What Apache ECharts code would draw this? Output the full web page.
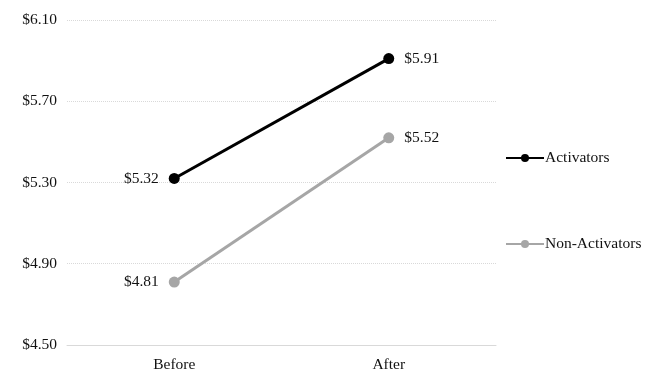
<!DOCTYPE html>
<html><head><meta charset="utf-8">
<script src="https://cdn.jsdelivr.net/npm/echarts@6/dist/echarts.min.js"></script>
<style>html,body{margin:0;padding:0;background:#fff}#c{width:653px;height:373px}</style>
</head><body><div id="c"></div>
<script>
var categories = ['Before', 'After'];
var activators = [5.32, 5.91];
var nonActivators = [4.81, 5.52];
var seriesNames = ['Activators', 'Non-Activators'];

var font = '"Liberation Serif", "DejaVu Serif", serif';
var chart = echarts.init(document.getElementById('c'));
function money(v){ return '$' + v.toFixed(2); }
function mkSeries(name, data, color){
  return {
    name: name, type: 'line',
    data: data.map(function(v, i){ return {value: v, label: {position: i === 0 ? 'left' : 'right'}}; }),
    symbol: 'circle', symbolSize: 11,
    lineStyle: {color: color, width: 3},
    itemStyle: {color: color},
    label: {
      show: true, formatter: function(p){ return money(p.value); },
      color: '#111', fontFamily: font, fontSize: 15.5, distance: 10
    },
    emphasis: {disabled: true}
  };
}

chart.setOption({
  animation: false,
  backgroundColor: '#fff',
  grid: {left: 67, right: 157, top: 20, bottom: 26, containLabel: false},
  legend: {
    orient: 'vertical', left: 500, top: 145, itemGap: 70,
    itemWidth: 38, itemHeight: 10,
    textStyle: {fontFamily: font, fontSize: 15.5, color: '#111', padding: [0,0,0,-4]},
    data: seriesNames
  },
  xAxis: {
    type: 'category', data: categories, boundaryGap: true,
    axisLine: {show: true, lineStyle: {color: '#d9d9d9', width: 1}},
    axisTick: {show: false},
    axisLabel: {fontFamily: font, fontSize: 15.5, color: '#111', margin: 12}
  },
  yAxis: {
    type: 'value', min: 4.5, max: 6.1, interval: 0.4,
    axisLine: {show: false}, axisTick: {show: false},
    splitLine: {lineStyle: {color: '#d9d9d9', type: 'dotted', width: 1}},
    axisLabel: {fontFamily: font, fontSize: 15.5, color: '#111', margin: 10,
      formatter: function(v){ return money(v); }}
  },
  series: [mkSeries(seriesNames[0], activators, '#000000'), mkSeries(seriesNames[1], nonActivators, '#a6a6a6')]
});
</script></body></html>
